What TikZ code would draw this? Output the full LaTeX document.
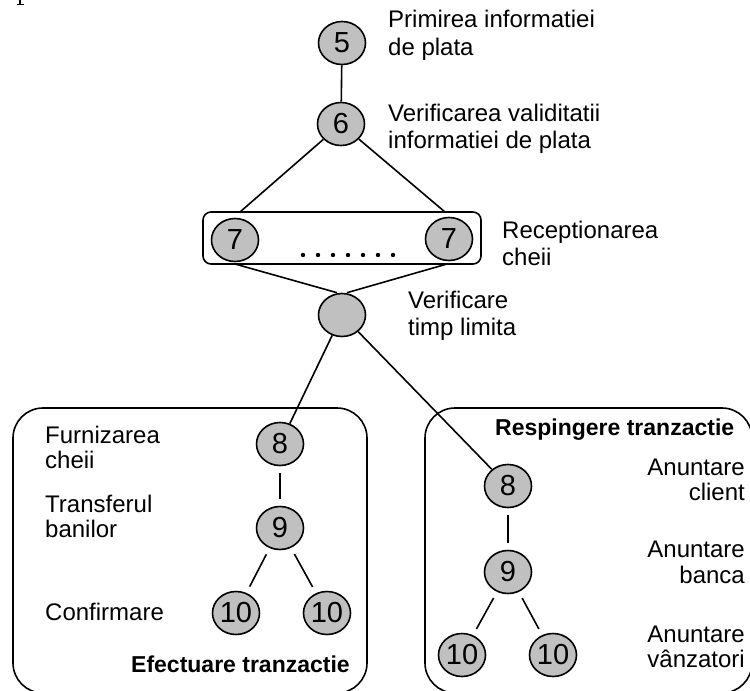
\documentclass[tikz,border=0pt]{standalone}
\usepackage{fontspec}
\setmainfont{Liberation Sans}
\usetikzlibrary{shapes.geometric}
\definecolor{nodegray}{RGB}{192,192,192}
\begin{document}
\begin{tikzpicture}[x=1pt,y=-1pt,
  every node/.style={font=\fontsize{24}{28}\selectfont},
  st/.style={ellipse,draw,fill=nodegray,line width=1.6pt,minimum width=47pt,minimum height=43pt,inner sep=0pt,font=\fontsize{29}{30}\selectfont},
  lbl/.style={anchor=base west,inner sep=0pt},
  lblr/.style={anchor=base east,inner sep=0pt},
  ttl/.style={inner sep=0pt,font=\fontsize{23}{28}\selectfont\bfseries},
  edge/.style={line width=1.6pt},
  gap/.style={edge,shorten <=7pt,shorten >=7pt},
  grp/.style={draw,line width=1.6pt,rounded corners=30pt,inner sep=0pt}
]
\useasboundingbox (0,0) rectangle (750,691);
% fragment at top-left
\fill (19.2,0) rectangle (21,5);
\fill (17,3.8) rectangle (24,5.3);

% group boxes
\node[grp,minimum width=354pt,minimum height=285pt] (gl) at (190,550.5) {};
\node[grp,minimum width=327pt,minimum height=285pt] (gr) at (588.5,550.5) {};
\node[grp,rounded corners=8pt,minimum width=278pt,minimum height=52pt] (box7) at (342,238) {};

% nodes
\node[st] (n5) at (342,43) {5};
\node[st] (n6) at (341,124) {6};
\node[st] (n7a) at (235,240) {7};
\node[st] (n7b) at (449,239) {7};
\foreach \i in {0,...,6} \fill (303+15*\i,255) circle (2.2pt);
\node[st] (nv) at (342,315) {};
\node[st] (l8) at (280,444) {8};
\node[st] (l9) at (280,528) {9};
\node[st] (l10a) at (236,613) {10};
\node[st] (l10b) at (327,613) {10};
\node[st] (r8) at (508,486) {8};
\node[st] (r9) at (508,572) {9};
\node[st] (r10a) at (462,655) {10};
\node[st] (r10b) at (553,655) {10};

% connectors
\coordinate (c7a) at (240,212);
\coordinate (c7b) at (445,212);
\coordinate (d7a) at (235,264);
\coordinate (d7b) at (447,264);
\draw[edge] (n5) -- (n6);
\draw[edge] (n6) -- (c7a);
\draw[edge] (n6) -- (c7b);
\draw[edge] (d7a) -- ([xshift=-5pt]nv.north);
\draw[edge] (d7b) -- ([xshift=5pt]nv.north);
\draw[edge] (nv) -- (l8);
\draw[edge] (nv) -- (r8);
\draw[gap] (l8) -- (l9);
\draw[gap] (l9) -- (l10a);
\draw[gap] (l9) -- (l10b);
\draw[gap] (r8) -- (r9);
\draw[gap] (r9) -- (r10a);
\draw[gap] (r9) -- (r10b);

% labels
\node[lbl] (t5a) at (388,27) {Primirea informatiei};
\node[lbl] (t5b) at (388,55) {de plata};
\node[lbl] (t6a) at (388,121) {Verificarea validitatii};
\node[lbl] (t6b) at (388,148) {informatiei de plata};
\node[lbl] (t7a) at (502,238) {Receptionarea};
\node[lbl] (t7b) at (502,265) {cheii};
\node[lbl] (tva) at (408,308) {Verificare};
\node[lbl] (tvb) at (408,335) {timp limita};

\node[lbl] (tl1a) at (45,443) {Furnizarea};
\node[lbl] (tl1b) at (45,468) {cheii};
\node[lbl] (tl2a) at (45,512) {Transferul};
\node[lbl] (tl2b) at (45,537) {banilor};
\node[lbl] (tl3) at (45,620) {Confirmare};
\node[ttl,anchor=base east] (tgl) at (350,672) {Efectuare tranzactie};

\node[ttl,anchor=base west] (tgr) at (495,435) {Respingere tranzactie};
\node[lblr] (tr1a) at (745,475) {Anuntare};
\node[lblr] (tr1b) at (745,500) {client};
\node[lblr] (tr2a) at (745,557) {Anuntare};
\node[lblr] (tr2b) at (745,583) {banca};
\node[lblr] (tr3a) at (745,642) {Anuntare};
\node[lblr] (tr3b) at (745,667) {vânzatori};
\end{tikzpicture}
\end{document}
